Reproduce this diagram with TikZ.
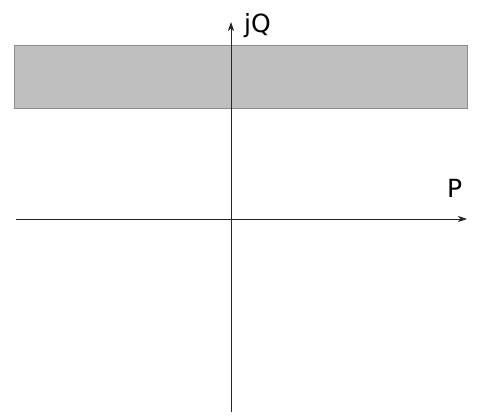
\documentclass[tikz,border=0pt]{standalone}
\usepackage{fontspec}
\setmainfont{DejaVu Sans}
\usepackage{tikz}
\usetikzlibrary{arrows.meta,positioning,calc}
\tikzset{>={Stealth[length=9pt,width=6pt,inset=2.5pt]}}

\begin{document}
\begin{tikzpicture}[x=1pt,y=-1pt]
\useasboundingbox (0,0) rectangle (490,419);
\node[draw=black!45,fill=black!25,line width=1pt,minimum width=453pt,minimum height=63pt,anchor=north west,inner sep=0pt] (band) at (14,45) {};
\coordinate (xl) at (16,219);
\coordinate (xr) at (467,219);
\coordinate (yb) at (231,412);
\coordinate (yt) at (231,22);
\begin{scope}[line width = 0.8pt, color=black!85]
\draw[->] (xl) to (xr);
\draw[->] (yb) to (yt);
\end{scope}
\node[anchor=base west,inner sep=0pt,font=\fontsize{25}{30}\selectfont] (jq) at (244,33) {jQ};
\node[anchor=base west,inner sep=0pt,font=\fontsize{25}{30}\selectfont] (p) at (447,198) {P};
%\draw[help lines] (0,0) grid (490,419) ;
\end{tikzpicture}
\end{document}
